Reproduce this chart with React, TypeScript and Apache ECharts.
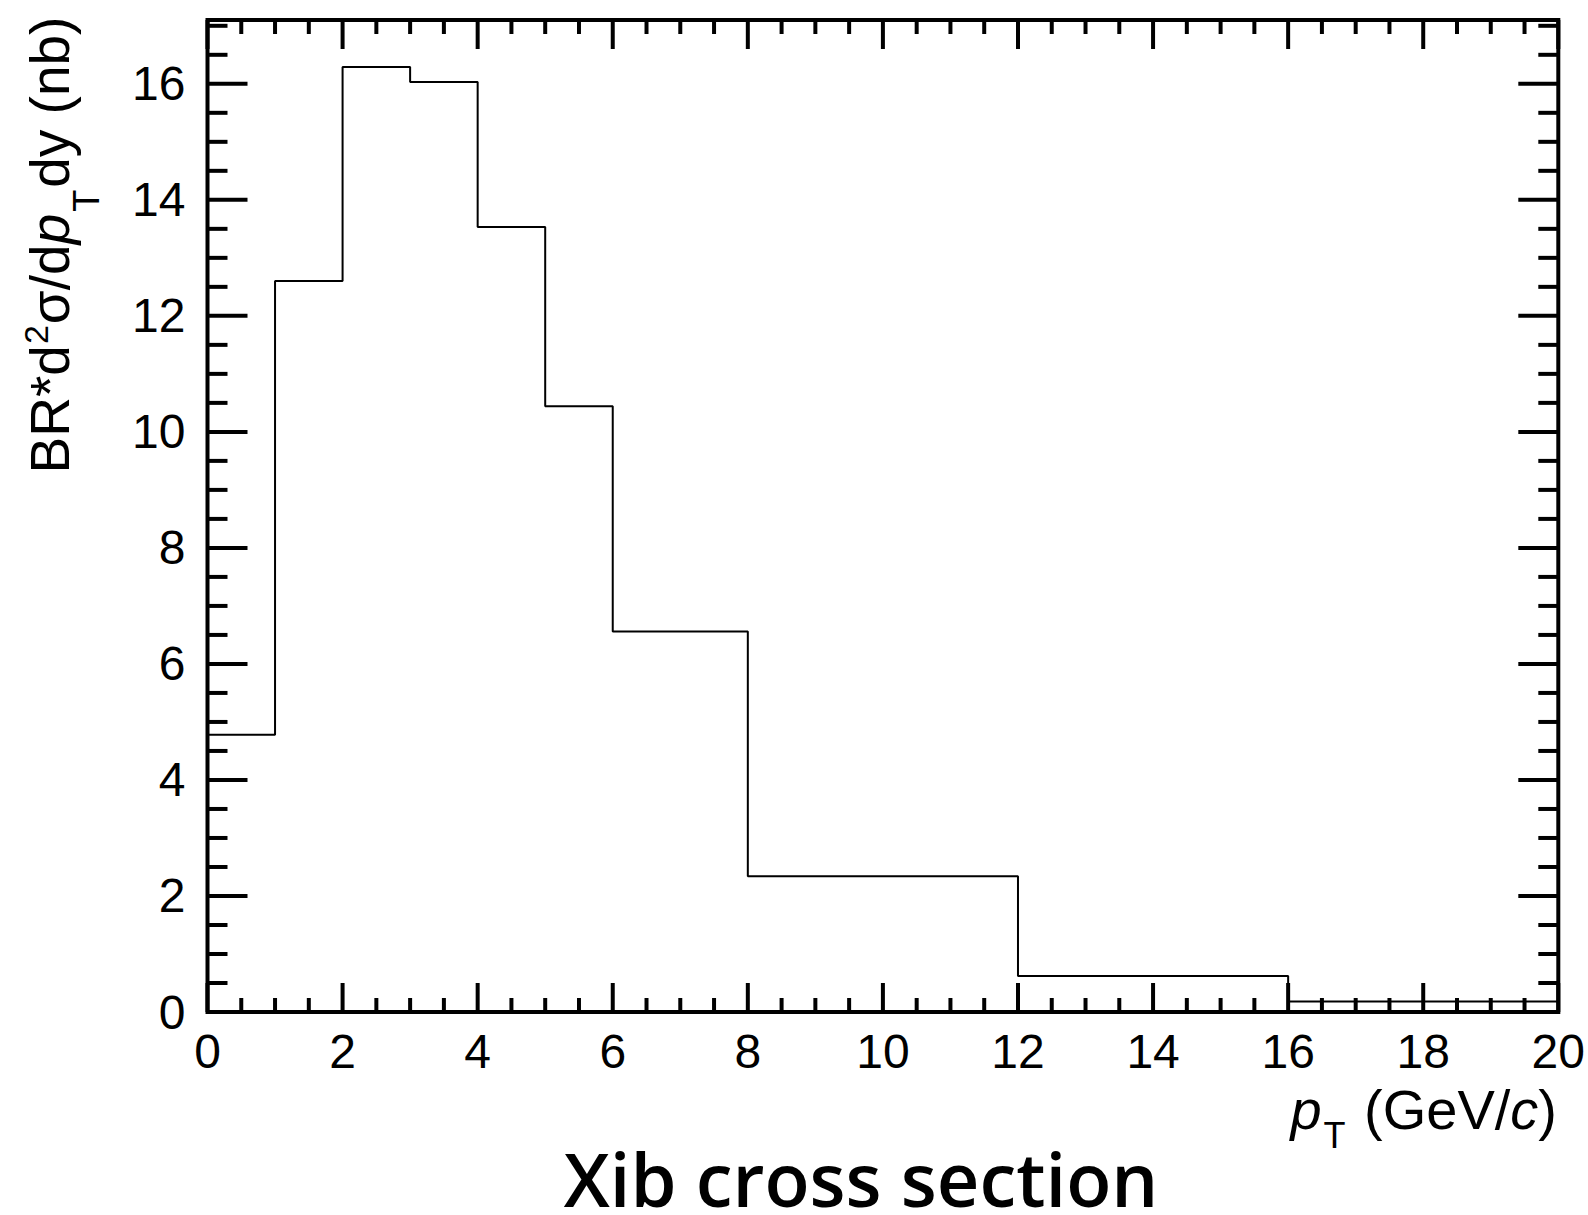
import React, { useEffect, useRef } from "react";
import * as echarts from "echarts";

// ---- data ----
const binEdges = [0, 1, 2, 3, 4, 5, 6, 8, 12, 16, 20];
const binValues = [4.78, 12.6, 16.29, 16.03, 13.53, 10.44, 6.56, 2.34, 0.62, 0.18];
const xRange = [0, 20];
const yRange = [0, 17.1];
const majorStep = 2;
const minorStep = 0.5;
const chartTitle = "Xib cross section";
const xTitleRich = "{i|p}{sub|T}{n| (GeV/}{i|c}{n|)}";
const yTitleRich = "{n|BR*d}{sup|2}{n|σ/d}{i|p}{sub|T}{n|dy (nb)}";

const FONT = '"Liberation Sans", Arial, Helvetica, sans-serif';
const W = 1588;
const H = 1215;

export default function App() {
  const ref = useRef<HTMLDivElement>(null);

  useEffect(() => {
    if (!ref.current) return;
    const chart = echarts.init(ref.current, null, { renderer: "svg" });

    const stepData = binEdges.map((e, i) => [e, binValues[Math.min(i, binValues.length - 1)]]);

    // tick positions (axis 0 = x, axis 1 = y), flagged major / minor
    const tickData: number[][] = [];
    const nx = Math.round((xRange[1] - xRange[0]) / minorStep);
    for (let k = 0; k <= nx; k++) {
      const v = xRange[0] + k * minorStep;
      tickData.push([v, Math.abs(v / majorStep - Math.round(v / majorStep)) < 1e-6 ? 1 : 0, 0]);
    }
    const ny = Math.floor((yRange[1] - yRange[0]) / minorStep + 1e-9);
    for (let k = 0; k <= ny; k++) {
      const v = yRange[0] + k * minorStep;
      tickData.push([v, Math.abs(v / majorStep - Math.round(v / majorStep)) < 1e-6 ? 1 : 0, 1]);
    }

    const tickLine = { stroke: "#000", lineWidth: 4 };
    const labelStyle = { color: "#000", fontSize: 48, fontFamily: FONT };
    const richBase = { fontFamily: FONT, fill: "#000", verticalAlign: "middle" };

    const option: any = {
      animation: false,
      backgroundColor: "#fff",
      grid: {
        left: 207.5,
        top: 20,
        right: W - 1560,
        bottom: H - 1012,
        show: true,
        borderColor: "#000",
        borderWidth: 4,
        backgroundColor: "transparent",
      },
      xAxis: {
        type: "value",
        position: "bottom",
        min: xRange[0],
        max: xRange[1],
        interval: majorStep,
        axisLine: { show: false },
        axisTick: { show: false },
        splitLine: { show: false },
        axisLabel: { ...labelStyle, margin: 15, interval: 0, showMinLabel: true, showMaxLabel: true },
      },
      yAxis: {
        type: "value",
        position: "left",
        min: yRange[0],
        max: yRange[1],
        interval: majorStep,
        axisLine: { show: false },
        axisTick: { show: false },
        splitLine: { show: false },
        axisLabel: {
          ...labelStyle,
          margin: 22,
          formatter: (v: number) =>
            Math.abs(v / majorStep - Math.round(v / majorStep)) < 1e-6 ? String(v) : "",
        },
      },
      series: [
        {
          type: "line",
          step: "end",
          data: stepData,
          symbol: "none",
          lineStyle: { color: "#000", width: 2 },
          z: 2,
        },
        {
          type: "custom",
          data: tickData,
          silent: true,
          clip: false,
          z: 3,
          renderItem: (params: any, api: any) => {
            const v = api.value(0);
            const major = api.value(1) === 1;
            const ax = api.value(2);
            if (ax === 0) {
              const pb = api.coord([v, yRange[0]]);
              const pt = api.coord([v, yRange[1]]);
              const len = major ? 29 : 14;
              return {
                type: "group",
                children: [
                  { type: "line", shape: { x1: pb[0], y1: pb[1], x2: pb[0], y2: pb[1] - len }, style: tickLine },
                  { type: "line", shape: { x1: pt[0], y1: pt[1], x2: pt[0], y2: pt[1] + len }, style: tickLine },
                ],
              };
            }
            const pl = api.coord([xRange[0], v]);
            const pr = api.coord([xRange[1], v]);
            const len = major ? 40 : 20;
            return {
              type: "group",
              children: [
                { type: "line", shape: { x1: pl[0], y1: pl[1], x2: pl[0] + len, y2: pl[1] }, style: tickLine },
                { type: "line", shape: { x1: pr[0], y1: pr[1], x2: pr[0] - len, y2: pr[1] }, style: tickLine },
              ],
            };
          },
        },
      ],
      graphic: [
        {
          type: "text",
          x: 1557,
          y: 1109,
          style: {
            text: xTitleRich,
            textAlign: "right",
            textVerticalAlign: "middle",
            fill: "#000",
            rich: {
              n: { ...richBase, fontSize: 56, lineHeight: 56 },
              i: { ...richBase, fontSize: 56, lineHeight: 56, fontStyle: "italic" },
              sub: { ...richBase, fontSize: 36, lineHeight: 36, padding: [52, 3, 0, 2] },
            },
          },
        },
        {
          type: "text",
          x: 50,
          y: 245,
          rotation: Math.PI / 2,
          style: {
            text: yTitleRich,
            textAlign: "center",
            textVerticalAlign: "middle",
            fill: "#000",
            rich: {
              n: { ...richBase, fontSize: 55, lineHeight: 55 },
              i: { ...richBase, fontSize: 55, lineHeight: 55, fontStyle: "italic" },
              sup: { ...richBase, fontSize: 34, lineHeight: 34, padding: [0, 1, 28, 1] },
              sub: { ...richBase, fontSize: 36, lineHeight: 36, padding: [72, 2, 0, 2] },
            },
          },
        },
        {
          type: "text",
          x: 861,
          y: 1178,
          style: {
            text: chartTitle,
            font: '600 74px "Open Sans", "Noto Sans", sans-serif',
            lineHeight: 60,
            textAlign: "center",
            textVerticalAlign: "middle",
            fill: "#000",
          },
        },
      ],
    };

    chart.setOption(option);
    return () => chart.dispose();
  }, []);

  return (
    <div
      ref={ref}
      style={{ position: "absolute", left: 0, top: 0, width: W, height: H, background: "#fff" }}
    />
  );
}
